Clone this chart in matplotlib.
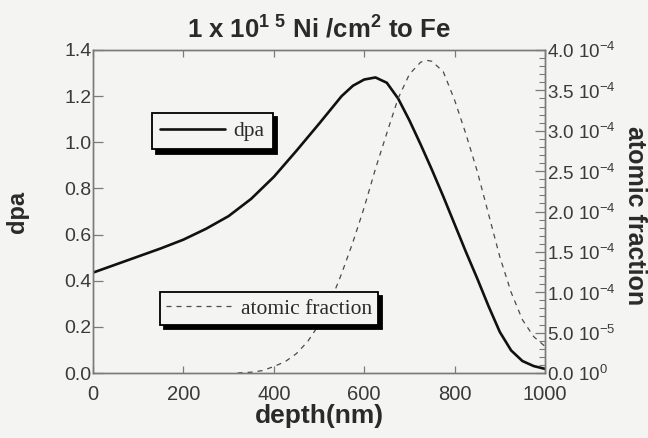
import numpy as np
import matplotlib
matplotlib.use("Agg")
import matplotlib.pyplot as plt
from matplotlib.ticker import MultipleLocator, FixedLocator

# ---- data ----
depth_dpa = [0, 50, 100, 150, 200, 250, 300, 350, 400, 450, 500, 525, 550, 575,
             600, 625, 650, 675, 700, 725, 750, 775, 800, 825, 850, 875, 900,
             925, 950, 975, 1000]
dpa = [0.435, 0.47, 0.505, 0.54, 0.578, 0.625, 0.68, 0.755, 0.85, 0.963, 1.08,
       1.14, 1.20, 1.245, 1.272, 1.281, 1.258, 1.19, 1.095, 0.99, 0.88, 0.765,
       0.645, 0.525, 0.41, 0.29, 0.178, 0.098, 0.052, 0.03, 0.018]

depth_af = [320, 350, 375, 400, 425, 450, 475, 500, 525, 550, 575, 600, 625, 650,
            675, 700, 725, 740, 750, 775, 800, 825, 850, 875, 900, 925, 950,
            975, 1000]
atomic_fraction = [0.0, 0.01e-4, 0.03e-4, 0.08e-4, 0.14e-4, 0.24e-4, 0.39e-4,
                   0.60e-4, 0.88e-4, 1.23e-4, 1.62e-4, 2.05e-4, 2.53e-4, 2.97e-4,
                   3.40e-4, 3.70e-4, 3.85e-4, 3.87e-4, 3.86e-4, 3.73e-4, 3.38e-4,
                   2.96e-4, 2.50e-4, 1.97e-4, 1.44e-4, 1.00e-4, 0.66e-4, 0.45e-4,
                   0.33e-4]

left_ticks = [0.0, 0.2, 0.4, 0.6, 0.8, 1.0, 1.2, 1.4]
x_ticks = [0, 200, 400, 600, 800, 1000]
right_ticks = [0.0, 0.5e-4, 1.0e-4, 1.5e-4, 2.0e-4, 2.5e-4, 3.0e-4, 3.5e-4, 4.0e-4]
right_labels = ["0.0 10$^{0}$", "5.0 10$^{-5}$", "1.0 10$^{-4}$", "1.5 10$^{-4}$",
                "2.0 10$^{-4}$", "2.5 10$^{-4}$", "3.0 10$^{-4}$", "3.5 10$^{-4}$",
                "4.0 10$^{-4}$"]

bg = "#f4f4f2"
spine_c = "#7a7a7a"
txt_c = "#2a2a2a"
plt.rcParams["font.family"] = ["Liberation Sans", "DejaVu Sans"]
plt.rcParams["mathtext.fontset"] = "custom"
plt.rcParams["mathtext.rm"] = "Liberation Sans"
plt.rcParams["mathtext.bf"] = "Liberation Sans:bold"

fig = plt.figure(figsize=(6.48, 4.38), dpi=100, facecolor=bg)
ax = fig.add_axes([93/648, 1-373/438, (545-93)/648, (373-50)/438])
ax.set_facecolor(bg)
ax2 = ax.twinx()

l1, = ax.plot(depth_dpa, dpa, color="#111111", lw=1.9, solid_capstyle="round",
              solid_joinstyle="round")
l2, = ax2.plot(depth_af, atomic_fraction, color="#4a4a4a", lw=0.9,
               linestyle=(0, (4, 4)))

ax.set_xlim(0, 1000)
ax.set_ylim(0, 1.4)
ax2.set_ylim(0, 4e-4)

ax.xaxis.set_major_locator(FixedLocator(x_ticks))
ax.set_xticklabels([str(v) for v in x_ticks])
ax.yaxis.set_major_locator(FixedLocator(left_ticks))
ax.set_yticklabels(["%.1f" % v for v in left_ticks])
ax2.yaxis.set_major_locator(FixedLocator(right_ticks))
ax2.set_yticklabels(right_labels)
ax2.yaxis.set_minor_locator(MultipleLocator(1e-5))

ax.tick_params(axis="x", direction="in", top=True, length=5, width=0.9,
               color=spine_c, labelsize=14.5, pad=9, labelcolor="#3a3a3a")
ax.tick_params(axis="y", direction="in", right=False, length=7, width=0.9,
               color=spine_c, labelsize=14, pad=1, labelcolor="#3a3a3a")
ax2.tick_params(axis="y", which="major", direction="in", length=7, width=0.9,
                color=spine_c, labelsize=13.5, pad=1.5, labelcolor="#3a3a3a")
ax2.tick_params(axis="y", which="minor", direction="in", length=4, width=0.8,
                color=spine_c)

for a in (ax, ax2):
    for s in a.spines.values():
        s.set_color(spine_c)
        s.set_linewidth(1.0)

ax.set_xlabel("depth(nm)", fontsize=19, fontweight="bold", color=txt_c,
              va="center", ha="center")
ax.xaxis.set_label_coords(0.5, -(416-373)/323)
ax.set_ylabel("dpa", fontsize=17, fontweight="bold", color=txt_c,
              va="center", ha="center")
ax.yaxis.set_label_coords((18-93)/452, (373-212)/323)
ax2.set_ylabel("atomic fraction", fontsize=18, fontweight="bold", color=txt_c,
               rotation=270, va="center", ha="center")
ax2.yaxis.set_label_coords((635-93)/452, (373-216)/323)
ax.set_title(r"1 x 10$^{\mathbf{1\ 5}}$ Ni /cm$^{\mathbf{2}}$ to Fe", fontsize=18.5,
             fontweight="bold", color=txt_c, pad=9)

shadow = {"ox": 3, "oy": -3, "facecolor": "black", "edgecolor": "black",
          "alpha": 1.0}
leg_prop = {"family": "Liberation Serif", "size": 15.5}
leg1 = ax2.legend([l1], ["dpa"], loc="upper left",
                  bbox_to_anchor=(152/648, 1-113/438), bbox_transform=fig.transFigure,
                  borderaxespad=0, frameon=True, fancybox=False, shadow=shadow,
                  prop=leg_prop, labelcolor=txt_c,
                  handlelength=3.0, handletextpad=0.4, borderpad=0.38)
leg1.get_frame().set_edgecolor("black")
leg1.get_frame().set_linewidth(1.3)
leg1.get_frame().set_facecolor(bg)
ax2.add_artist(leg1)

leg2 = ax2.legend([l2], ["atomic fraction"], loc="upper left",
                  bbox_to_anchor=(160/648, 1-292/438), bbox_transform=fig.transFigure,
                  borderaxespad=0, frameon=True, fancybox=False, shadow=shadow,
                  prop=leg_prop, labelcolor=txt_c,
                  handlelength=3.1, handletextpad=0.35, borderpad=0.3)
leg2.get_frame().set_edgecolor("black")
leg2.get_frame().set_linewidth(1.3)
leg2.get_frame().set_facecolor(bg)

fig.savefig("out.png", dpi=100, facecolor=bg)
